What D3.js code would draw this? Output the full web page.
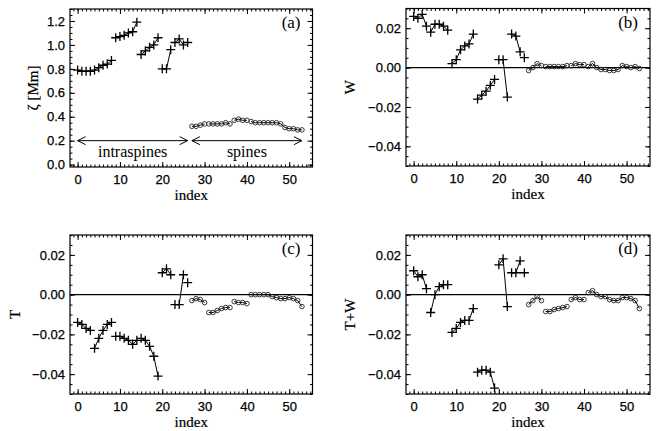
<!DOCTYPE html>
<html>
<head>
<meta charset="utf-8">
<script src="https://cdn.jsdelivr.net/npm/d3@7"></script>
<style>
  body { margin: 0; background: #fff; }
  svg text { fill: #000; }
</style>
</head>
<body>
<script>
// index 0..26 = intraspines (plus), 27..53 = spines (circles)
var nIntra = 27;
// runs of consecutive points joined by a line (inclusive)
var runs = [[0, 3], [4, 8], [9, 14], [15, 19], [20, 22], [23, 25], [26, 26], [27, 30], [31, 36], [37, 40], [41, 53]];

var zeta = [0.79, 0.78, 0.78, 0.78, 0.79, 0.81, 0.83, 0.84, 0.87,
    1.06, 1.07, 1.08, 1.10, 1.11, 1.19,
    0.92, 0.95, 0.98, 1.00, 1.06,
    0.80, 0.80, 0.96,
    1.02, 1.05, 1.00, 1.02,
    0.32, 0.32, 0.33, 0.34,
    0.34, 0.34, 0.34, 0.34, 0.35, 0.34,
    0.37, 0.38, 0.37, 0.37,
    0.36, 0.35, 0.35, 0.35, 0.35, 0.35, 0.35, 0.34, 0.31, 0.30, 0.30, 0.29, 0.29];

var wVals = [0.026, 0.025, 0.027, 0.021, 0.018, 0.022, 0.022, 0.021, 0.019,
    0.002, 0.004, 0.009, 0.011, 0.012, 0.017,
    -0.016, -0.014, -0.012, -0.009, -0.006,
    0.004, 0.004, -0.015,
    0.017, 0.016, 0.008, 0.005,
    -0.0015, 0.0, 0.002, 0.001,
    0.0005, 0.0005, 0.0005, 0.0005, 0.0005, 0.001,
    0.001, 0.002, 0.0015, 0.0015,
    0.0005, 0.002, 0.0, -0.001, -0.001, -0.0015, -0.0015, -0.001, 0.001, 0.0005, 0.0, 0.0005, -0.0005];

var tVals = [-0.014, -0.015, -0.017, -0.018, -0.027, -0.022, -0.018, -0.015, -0.014,
    -0.021, -0.021, -0.022, -0.023, -0.025, -0.023,
    -0.022, -0.023, -0.026, -0.031, -0.041,
    0.011, 0.013, 0.010,
    -0.005, -0.005, 0.010, 0.006,
    -0.003, -0.002, -0.0025, -0.004,
    -0.009, -0.009, -0.008, -0.007, -0.0065, -0.0065,
    -0.0035, -0.004, -0.004, -0.0045,
    0.0, 0.0, 0.0, 0.0, 0.0, -0.001, -0.0015, -0.002, -0.002, -0.0015, -0.002, -0.003, -0.006];

var twVals = [0.012, 0.009, 0.010, 0.003, -0.009, 0.000, 0.004, 0.005, 0.005,
    -0.019, -0.017, -0.014, -0.013, -0.013, -0.007,
    -0.039, -0.038, -0.038, -0.039, -0.047,
    0.015, 0.018, -0.006,
    0.011, 0.011, 0.017, 0.011,
    -0.005, -0.003, -0.001, -0.003,
    -0.0085, -0.0085, -0.0075, -0.007, -0.0065, -0.006,
    -0.0025, -0.0015, -0.0025, -0.0025,
    0.001, 0.002, 0.0, -0.001, -0.001, -0.0025, -0.003, -0.003, -0.0015, -0.0015, -0.002, -0.003, -0.007];

var xTicks = [0, 10, 20, 30, 40, 50];
var zetaTicks = [0.0, 0.2, 0.4, 0.6, 0.8, 1.0, 1.2];
var energyTicks = [-0.04, -0.02, 0.00, 0.02];
var groupNames = ["intraspines", "spines"];

var width = 657, height = 431;
var serif = "'Liberation Serif', 'Times New Roman', serif";

var svg = d3.select("body").append("svg")
    .attr("width", width)
    .attr("height", height)
    .style("font-family", "'Liberation Sans', Arial, sans-serif");

var panels = [
    {tag: "(a)", vals: zeta, yDomain: [-0.02, 1.3], ticks: zetaTicks, minorStep: 0.05, fmt: d3.format(".1f"),
        label: "ζ [Mm]", labelOff: 37, zero: false, left: 70, right: 312.5, top: 9, bottom: 167},
    {tag: "(b)", vals: wVals, yDomain: [-0.05, 0.03], ticks: energyTicks, minorStep: 0.005, fmt: d3.format(".2f"),
        label: "W", labelOff: 56, zero: true, left: 406, right: 650, top: 8.5, bottom: 166},
    {tag: "(c)", vals: tVals, yDomain: [-0.05, 0.03], ticks: energyTicks, minorStep: 0.005, fmt: d3.format(".2f"),
        label: "T", labelOff: 55, zero: true, left: 70, right: 312.5, top: 235, bottom: 394},
    {tag: "(d)", vals: twVals, yDomain: [-0.05, 0.03], ticks: energyTicks, minorStep: 0.005, fmt: d3.format(".2f"),
        label: "T+W", labelOff: 56, zero: true, left: 406, right: 650, top: 235, bottom: 394}
];

panels.forEach(drawPanel);

function minorValues(domain, step) {
    var lo = Math.ceil(domain[0] / step - 1e-9), hi = Math.floor(domain[1] / step + 1e-9);
    return d3.range(lo, hi + 1).map(function (i) { return +(i * step).toFixed(6); });
}

function drawPanel(p) {
    var x = d3.scaleLinear().domain([-1.8, 55.5]).range([p.left, p.right]);
    var y = d3.scaleLinear().domain(p.yDomain).range([p.bottom, p.top]);
    var g = svg.append("g");

    var xMinor = minorValues(x.domain(), 1);
    var yMinor = minorValues(p.yDomain, p.minorStep);

    // bottom / top axes
    g.append("g").attr("transform", "translate(0," + p.bottom + ")")
        .call(d3.axisBottom(x).tickValues(xMinor).tickFormat("").tickSizeInner(-2.5).tickSizeOuter(0));
    g.append("g").attr("transform", "translate(0," + p.bottom + ")")
        .call(d3.axisBottom(x).tickValues(xTicks).tickSizeInner(-5).tickSizeOuter(0).tickPadding(8))
        .selectAll("text").style("font-size", "13px").attr("stroke", "#000").attr("stroke-width", 0.25);
    g.append("g").attr("transform", "translate(0," + p.top + ")")
        .call(d3.axisTop(x).tickValues(xMinor).tickFormat("").tickSizeInner(-2.5).tickSizeOuter(0));
    g.append("g").attr("transform", "translate(0," + p.top + ")")
        .call(d3.axisTop(x).tickValues(xTicks).tickFormat("").tickSizeInner(-5).tickSizeOuter(0));

    // left / right axes
    g.append("g").attr("transform", "translate(" + p.left + ",0)")
        .call(d3.axisLeft(y).tickValues(yMinor).tickFormat("").tickSizeInner(-2.5).tickSizeOuter(0));
    g.append("g").attr("transform", "translate(" + p.left + ",0)")
        .call(d3.axisLeft(y).tickValues(p.ticks).tickFormat(p.fmt).tickSizeInner(-5).tickSizeOuter(0).tickPadding(5))
        .selectAll("text").style("font-size", "13px").attr("stroke", "#000").attr("stroke-width", 0.25);
    g.append("g").attr("transform", "translate(" + p.right + ",0)")
        .call(d3.axisRight(y).tickValues(yMinor).tickFormat("").tickSizeInner(-2.5).tickSizeOuter(0));
    g.append("g").attr("transform", "translate(" + p.right + ",0)")
        .call(d3.axisRight(y).tickValues(p.ticks).tickFormat("").tickSizeInner(-5).tickSizeOuter(0));

    g.selectAll(".domain").remove();
    g.selectAll(".tick line").attr("stroke", "#000").attr("stroke-width", 1);

    // frame
    g.append("rect")
        .attr("x", p.left).attr("y", p.top)
        .attr("width", p.right - p.left).attr("height", p.bottom - p.top)
        .attr("fill", "none").attr("stroke", "#000").attr("stroke-width", 1.2);

    if (p.zero) {
        g.append("line")
            .attr("x1", p.left).attr("x2", p.right)
            .attr("y1", y(0)).attr("y2", y(0))
            .attr("stroke", "#000").attr("stroke-width", 1.2);
    }

    // lines within each run
    var line = d3.line().x(function (i) { return x(i); }).y(function (i) { return y(p.vals[i]); });
    g.selectAll("path.run").data(runs.filter(function (r) { return r[1] > r[0]; })).enter().append("path")
        .attr("class", "run")
        .attr("d", function (r) { return line(d3.range(r[0], r[1] + 1)); })
        .attr("fill", "none").attr("stroke", "#000").attr("stroke-width", 1);

    var idx = d3.range(p.vals.length);
    // spines: open circles
    g.selectAll("circle.sp").data(idx.filter(function (i) { return i >= nIntra; })).enter().append("circle")
        .attr("class", "sp")
        .attr("cx", function (i) { return x(i); })
        .attr("cy", function (i) { return y(p.vals[i]); })
        .attr("r", 2.3)
        .attr("fill", "none").attr("stroke", "#222").attr("stroke-width", 0.9);
    // intraspines: plus signs
    g.selectAll("path.pl").data(idx.filter(function (i) { return i < nIntra; })).enter().append("path")
        .attr("class", "pl")
        .attr("transform", function (i) { return "translate(" + x(i) + "," + y(p.vals[i]) + ")"; })
        .attr("d", "M-4.5,0H4.5M0,-4.5V4.5")
        .attr("stroke", "#000").attr("stroke-width", 1.3);

    // labels
    g.append("text")
        .attr("x", (p.left + p.right) / 2).attr("y", p.bottom + 33)
        .attr("text-anchor", "middle")
        .style("font-family", serif).style("font-size", "15px")
        .attr("stroke", "#000").attr("stroke-width", 0.2)
        .text("index");
    g.append("text")
        .attr("transform", "translate(" + (p.left - p.labelOff) + "," + ((p.top + p.bottom) / 2) + ") rotate(-90)")
        .attr("text-anchor", "middle").attr("dy", "0.35em")
        .style("font-family", serif).style("font-size", "15px")
        .attr("stroke", "#000").attr("stroke-width", 0.2)
        .text(p.label);
    g.append("text")
        .attr("x", p.right - 12).attr("y", p.top + 19)
        .attr("text-anchor", "end")
        .style("font-family", serif).style("font-size", "17px")
        .text(p.tag);

    if (p.tag === "(a)") drawSpans(g, x, y);
}

// double-headed arrows marking intraspines and spines in panel (a)
function drawSpans(g, x, y) {
    var spans = [[0, nIntra - 1], [nIntra, zeta.length - 1]];
    var yy = y(0.2);
    spans.forEach(function (s, k) {
        var x0 = x(s[0]), x1 = x(s[1]);
        g.append("path")
            .attr("d", "M" + x0 + "," + yy + "H" + x1 +
                "M" + (x0 + 8) + "," + (yy - 4) + "L" + x0 + "," + yy + "L" + (x0 + 8) + "," + (yy + 4) +
                "M" + (x1 - 8) + "," + (yy - 4) + "L" + x1 + "," + yy + "L" + (x1 - 8) + "," + (yy + 4))
            .attr("fill", "none").attr("stroke", "#000").attr("stroke-width", 1);
        g.append("text")
            .attr("x", (x0 + x1) / 2).attr("y", yy + 16)
            .attr("text-anchor", "middle")
            .style("font-family", serif).style("font-size", "16px")
            .text(groupNames[k]);
    });
}
</script>
</body>
</html>
